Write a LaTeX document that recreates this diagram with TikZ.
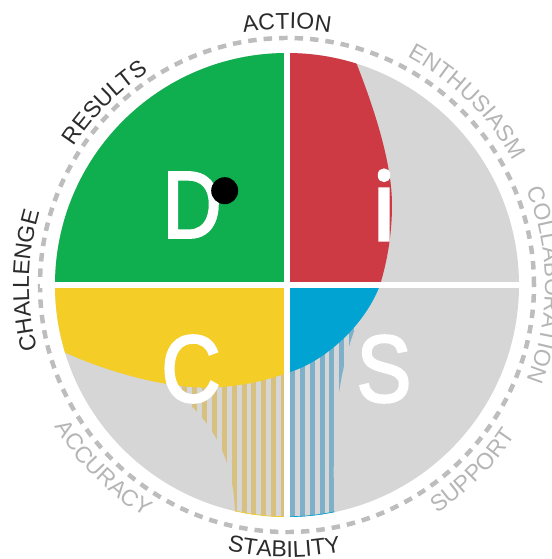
\documentclass[tikz,border=0pt]{standalone}
\usepackage{fontspec}
\setmainfont{Liberation Sans}
\newfontfamily\bigfont[FakeBold=2.5,FakeStretch=0.86]{Liberation Sans}
\newfontfamily\ifont[FakeBold=3.5]{Open Sans}
\usetikzlibrary{decorations.text}
\definecolor{dgreen}{HTML}{0FAE4F}
\definecolor{ired}{HTML}{CD3A43}
\definecolor{cyellow}{HTML}{F4CD27}
\definecolor{sblue}{HTML}{00A3D1}
\definecolor{basegray}{HTML}{D6D6D6}
\definecolor{ringgray}{HTML}{BDBDBD}
\definecolor{labeldark}{HTML}{2B2B2B}
\definecolor{labellight}{HTML}{B5B5B5}
\definecolor{tanstripe}{HTML}{D8C17F}
\definecolor{bluestripe}{HTML}{7FB0C9}
\newcommand{\cwlabel}[4]{\path[decorate,decoration={text along path,text align=center,text={|\fontsize{23}{23}\selectfont\color{#4}|#3}}] (#1+60:#2pt) arc[start angle=#1+60,end angle=#1-60,radius=#2pt];}
\newcommand{\ccwlabel}[4]{\path[decorate,decoration={text along path,text align=center,text={|\fontsize{23}{23}\selectfont\color{#4}|#3}}] (#1-60:#2pt) arc[start angle=#1-60,end angle=#1+60,radius=#2pt];}
\tikzset{
  bigletter/.style={text=white,inner sep=0pt,font=\bigfont\fontsize{95}{95}\selectfont},
  imgcoords/.style={shift={(-287pt,285pt)},x=1pt,y=-1pt}
}
\begin{document}
\begin{tikzpicture}[x=1pt,y=1pt]
\useasboundingbox (-287,-274) rectangle (264,285);
\clip (-287,-274) rectangle (264,285);
\fill[basegray] (0,0) circle[radius=232];
\draw[ringgray,line width=4.5pt,dash pattern=on 8.5pt off 7pt] (0,0) circle[radius=247];
\begin{scope}
\clip (0,0) circle[radius=232];
\begin{scope}[imgcoords]
  % hatched left
  \begin{scope}
    \clip (150,376) .. controls (198,402) and (236,445) .. (235,520) -- (287,530) -- (287,360) -- cycle;
    \foreach \k in {-6,...,5} \fill[tanstripe] ({231.7+9.85*\k},360) rectangle ++(5,170);
    \draw[cyellow,line width=0.7pt] (287,285) circle[radius=231.7];
  \end{scope}
  % hatched right
  \begin{scope}
    \clip (360,315) .. controls (340,365) and (330,420) .. (335,520) -- (287,530) -- (287,360) -- cycle;
    \foreach \k in {0,...,6} \fill[bluestripe] ({290+9.85*\k},310) rectangle ++(5,220);
    \draw[sblue,line width=0.7pt] (287,285) circle[radius=231.7];
  \end{scope}
  % quadrants
  \fill[dgreen] (287,285) rectangle (40,40);
  \fill[ired] (287,285) -- (287,40) -- (347,40) .. controls (372,100) and (392,160) .. (392,205) .. controls (392,235) and (387,262) .. (380,285) -- cycle;
  \fill[sblue] (287,285) -- (380,285) .. controls (365,325) and (325,362) .. (287,373) -- cycle;
  \fill[cyellow] (287,285) -- (40,285) -- (40,340) .. controls (90,368) and (170,392) .. (222,387) .. controls (245,385) and (265,381) .. (287,373) -- cycle;
\end{scope}
\end{scope}
\begin{scope}[imgcoords]
  \fill[white] (284,40) rectangle (290,530);
  \fill[white] (40,282) rectangle (530,288);
  \node[bigletter] (letterD) at (192,205) {D};
  \node[bigletter,font=\ifont\fontsize{95}{95}\selectfont] (letterI) at (384,205) {i};
  \node[bigletter] (letterC) at (191,369) {C};
  \node[bigletter] (letterS) at (384,369) {S};
  \fill[black] (224.7,190.7) circle[radius=13.5];
\end{scope}
\cwlabel{90}{256}{ACTION}{labeldark}
\cwlabel{135}{254}{RESULTS}{labeldark}
\cwlabel{179}{258}{CHALLENGE}{labeldark}
\cwlabel{45.5}{258}{ENTHUSIASM}{labellight}
\cwlabel{0}{258}{COLLABORATION}{labellight}
\ccwlabel{225}{272}{ACCURACY}{labellight}
\ccwlabel{269.4}{272}{STABILITY}{labeldark}
\ccwlabel{315}{273}{SUPPORT}{labellight}
\end{tikzpicture}
\end{document}
